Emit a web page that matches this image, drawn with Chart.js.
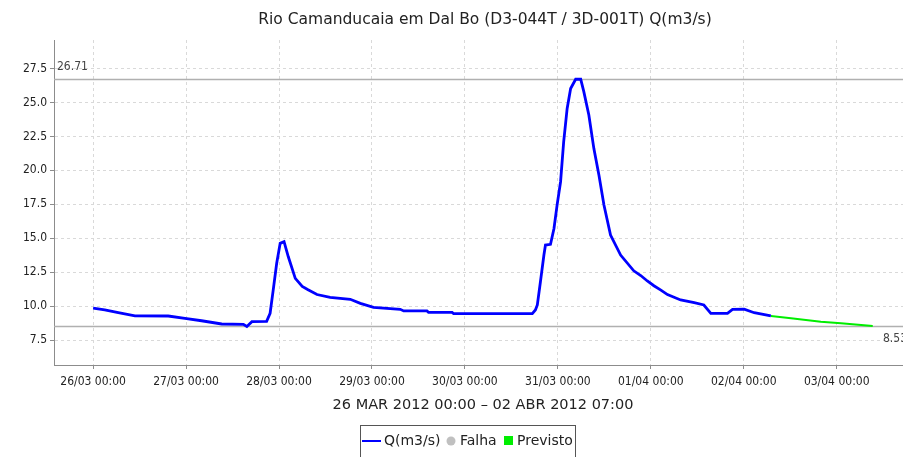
<!DOCTYPE html>
<html>
<head>
<meta charset="utf-8">
<script src="https://cdn.jsdelivr.net/npm/chart.js@4.4.0/dist/chart.umd.min.js"></script>
<style>
html, body { margin: 0; padding: 0; background: #fff; overflow: hidden; }
#wrap { width: 903px; height: 457px; overflow: hidden; position: relative; }
#box { width: 920px; height: 457px; position: absolute; left: 0; top: 0; }
</style>
</head>
<body>
<div id="wrap"><div id="box"><canvas id="flowChart"></canvas></div></div>
<script>
// hours counted from 26/03/2012 00:00
const obsHours = [0, 3, 6.5, 10.8, 19.4, 23.7, 28, 33.2, 38.8, 39.7, 41, 44.8, 45.7, 46.5, 47.4, 48.3, 49.3, 50.4, 52.2, 54, 55.5, 57.8, 61.2, 66.4, 69, 72.4, 79.3, 80.2, 86.2, 86.6, 92.7, 93.1, 113.4, 114.2, 114.7, 115.5, 116.4, 116.8, 118.1, 119, 119.8, 120.7, 121.5, 122.4, 123.3, 124.6, 125.9, 126.7, 128, 129.3, 130.6, 131.9, 133.6, 136.2, 139.6, 141.4, 143.1, 144.8, 146.6, 148.3, 151.7, 155.2, 157.7, 159.5, 163.8, 165.1, 168.1, 170.7, 175];
const obsFlow = [9.85, 9.72, 9.52, 9.28, 9.27, 9.1, 8.92, 8.68, 8.66, 8.5, 8.85, 8.87, 9.47, 11.18, 13.15, 14.62, 14.74, 13.63, 12.04, 11.45, 11.2, 10.85, 10.64, 10.5, 10.2, 9.9, 9.76, 9.64, 9.64, 9.54, 9.54, 9.44, 9.44, 9.71, 10.08, 11.79, 13.76, 14.5, 14.55, 15.72, 17.44, 19.16, 22.1, 24.56, 26.03, 26.71, 26.71, 25.8, 24.07, 21.6, 19.65, 17.44, 15.23, 13.76, 12.6, 12.25, 11.85, 11.5, 11.18, 10.85, 10.45, 10.25, 10.08, 9.47, 9.47, 9.76, 9.78, 9.51, 9.27];
const fcstHours = [175, 180.2, 187.9, 193.1, 201.3];
const fcstFlow = [9.27, 9.1, 8.85, 8.73, 8.53];

const xTicks = [0, 24, 48, 72, 96, 120, 144, 168, 192];
const xTickLabels = ['26/03 00:00', '27/03 00:00', '28/03 00:00', '29/03 00:00', '30/03 00:00', '31/03 00:00', '01/04 00:00', '02/04 00:00', '03/04 00:00'];
const yTicks = [7.5, 10, 12.5, 15, 17.5, 20, 22.5, 25, 27.5];
const maxFlow = 26.71;
const minFlow = 8.53;

const titleText = 'Rio Camanducaia em Dal Bo (D3-044T / 3D-001T) Q(m3/s)';
const periodText = '26 MAR 2012 00:00 \u2013 02 ABR 2012 07:00';

const FONT = "'DejaVu Sans Condensed', 'DejaVu Sans', sans-serif";
const WIDE = "'DejaVu Sans', sans-serif";
const GRID = '#d9d9d9';
const AXIS = '#8c8c8c';

const decorations = {
    id: 'decorations',
    beforeDatasetsDraw(chart) {
        const { ctx, chartArea } = chart;
        const y = chart.scales.y;
        ctx.save();
        ctx.strokeStyle = '#b0b0b0';
        ctx.lineWidth = 1.5;
        [maxFlow, minFlow].forEach(v => {
            const py = Math.round(y.getPixelForValue(v)) + 0.5;
            ctx.beginPath();
            ctx.moveTo(chartArea.left, py);
            ctx.lineTo(chartArea.right, py);
            ctx.stroke();
        });
        ctx.fillStyle = '#444';
        ctx.font = '12px ' + FONT;
        ctx.textBaseline = 'middle';
        ctx.textAlign = 'left';
        ctx.fillText(maxFlow.toFixed(2), chartArea.left + 3, y.getPixelForValue(maxFlow) - 12);
        ctx.textAlign = 'right';
        ctx.fillText(minFlow.toFixed(2), chartArea.right - 6, y.getPixelForValue(minFlow) + 13);
        ctx.restore();
    },
    afterDraw(chart) {
        const { ctx } = chart;
        ctx.save();
        ctx.fillStyle = '#222';
        ctx.textBaseline = 'middle';
        ctx.textAlign = 'center';
        ctx.font = '15.5px ' + WIDE;
        ctx.fillText(titleText, 485, 20);
        ctx.font = '14.5px ' + WIDE;
        ctx.fillText(periodText, 483, 405);

        // legend box
        ctx.strokeStyle = '#555';
        ctx.lineWidth = 1;
        ctx.strokeRect(360.5, 425.5, 215, 40);
        ctx.strokeStyle = '#0000ff';
        ctx.lineWidth = 2;
        ctx.beginPath();
        ctx.moveTo(362, 441);
        ctx.lineTo(381, 441);
        ctx.stroke();
        ctx.fillStyle = '#c0c0c0';
        ctx.beginPath();
        ctx.arc(451, 441, 4.5, 0, Math.PI * 2);
        ctx.fill();
        ctx.fillStyle = '#00ee00';
        ctx.fillRect(504, 436, 9, 9);
        ctx.fillStyle = '#222';
        ctx.textAlign = 'left';
        ctx.font = '14px ' + WIDE;
        ctx.fillText('Q(m3/s)', 384, 441);
        ctx.fillText('Falha', 460, 441);
        ctx.fillText('Previsto', 517, 441);
        ctx.restore();
    }
};

new Chart(document.getElementById('flowChart'), {
    type: 'line',
    data: {
        datasets: [{
            label: 'Q(m3/s)',
            data: obsHours.map((h, i) => ({ x: h, y: obsFlow[i] })),
            borderColor: '#0000ff',
            borderWidth: 2.8,
            pointRadius: 0,
            tension: 0
        }, {
            label: 'Previsto',
            data: fcstHours.map((h, i) => ({ x: h, y: fcstFlow[i] })),
            borderColor: '#00ee00',
            borderWidth: 2,
            pointRadius: 0,
            tension: 0
        }]
    },
    options: {
        responsive: true,
        maintainAspectRatio: false,
        animation: false,
        layout: { padding: { top: 40, right: 7, left: 0, bottom: 0 } },
        plugins: {
            legend: { display: false },
            tooltip: { enabled: false }
        },
        scales: {
            x: {
                type: 'linear',
                min: -10.1,
                max: 211.7,
                afterFit: scale => { scale.height = 92; },
                afterBuildTicks: scale => { scale.ticks = xTicks.map(v => ({ value: v })); },
                grid: { color: GRID, tickColor: AXIS, tickLength: 4, tickBorderDash: [] },
                border: { color: AXIS, width: 1, dash: [3, 3] },
                ticks: {
                    maxRotation: 0,
                    autoSkip: false,
                    padding: 6,
                    color: '#222',
                    font: { family: FONT, size: 12 },
                    callback: value => xTickLabels[xTicks.indexOf(value)]
                }
            },
            y: {
                min: 5.66,
                max: 29.6,
                afterFit: scale => { scale.width = 54; },
                afterBuildTicks: scale => { scale.ticks = yTicks.map(v => ({ value: v })); },
                grid: { color: GRID, tickColor: AXIS, tickLength: 4, tickBorderDash: [] },
                border: { color: AXIS, width: 1, dash: [3, 3] },
                ticks: {
                    padding: 3,
                    color: '#222',
                    font: { family: FONT, size: 12 },
                    callback: value => value.toFixed(1)
                }
            }
        }
    },
    plugins: [decorations]
});
</script>
</body>
</html>
